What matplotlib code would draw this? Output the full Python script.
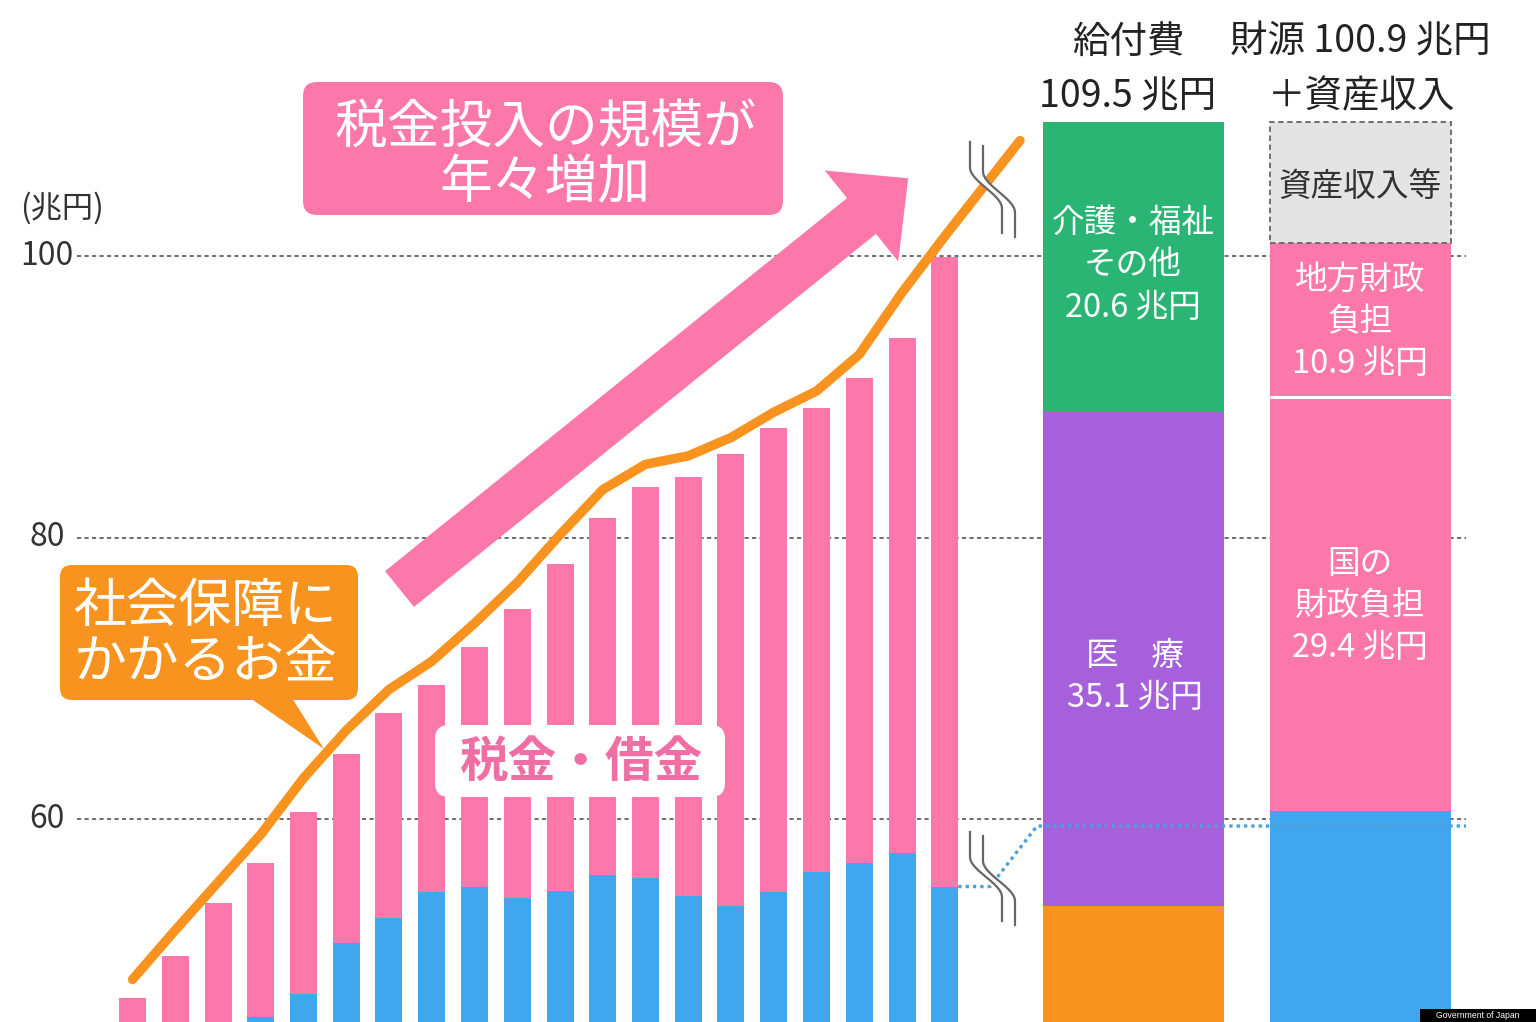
import matplotlib
matplotlib.use('Agg')
import matplotlib.pyplot as plt
import matplotlib.transforms as mtransforms
from matplotlib.patches import FancyBboxPatch, Polygon, Rectangle
import numpy as np

plt.rcParams['font.family'] = ['Noto Sans CJK JP', 'DejaVu Sans']

# ---------------- data (兆円) ----------------
# orange line: 社会保障にかかるお金 (per year, 20 years)
social_security_cost = [48.6, 52.1, 55.5, 58.9, 62.9, 66.3, 69.2, 71.2, 73.9, 76.8,
                        80.2, 83.4, 85.2, 85.8, 87.1, 88.9, 90.4, 93.0, 97.4, 101.4]
cost_tail_value = 108.2            # line continues past the break mark
# pink bar top: 保険料 + 税金・借金
tax_and_debt_top = [47.3, 50.3, 54.0, 56.9, 60.5, 64.6, 67.5, 69.5, 72.2, 74.9,
                    78.1, 81.4, 83.6, 84.3, 85.9, 87.8, 89.2, 91.3, 94.2, 99.9]
# blue bar top: 保険料
insurance_top = [42.5, 43.8, 45.0, 45.9, 47.6, 51.2, 53.0, 54.8, 55.2, 54.4,
                 54.9, 56.0, 55.8, 54.5, 53.8, 54.8, 56.2, 56.9, 57.6, 55.2]
insurance_link_level = 59.5

benefit_labels = ['年金', '医　療', '介護・福祉\nその他']
benefit_values = [53.8, 35.1, 20.6]
benefit_total = 109.5
funding_labels = ['社会保険料', '国の\n財政負担', '地方財政\n負担', '資産収入等']
funding_values = [60.6, 29.4, 10.9, 8.6]
funding_total = 100.9
yticks = [60, 80, 100]

# ---------------- colours ----------------
PINK = '#FD78AA'
BLUE = '#40A6EE'
ORANGE = '#F7931E'
GREEN = '#2AB574'
PURPLE = '#A660DC'
GRAYBOX = '#E4E4E4'
TXT = '#222222'

W, H = 1536, 1022
fig = plt.figure(figsize=(W / 100, H / 100), dpi=100)
ax = fig.add_axes([0, 0, 1, 1])
ax.axis('off')

X0, DX = 132.5, 42.75          # pixel centre of first bar, spacing


def px_x(p):
    return (p - X0) / DX


PPU = (819 - 256) / 40.0


def px_y(p):
    return 100 + (256 - p) / PPU


# pixel transform (origin top-left)
T = mtransforms.Affine2D().scale(1 / W, -1 / H).translate(0, 1) + fig.transFigure
# pixel transform with y up (for rounded boxes)
TU = mtransforms.Affine2D().scale(1 / W, 1 / H) + fig.transFigure

# gridlines
ax.hlines(yticks, px_x(77), px_x(1466), colors='#555555', linestyles=(0, (2.5, 2)),
          lw=1.2, zorder=1)
for v in yticks:
    ax.text(47, 256 + (100 - v) * PPU, str(v), transform=T, ha='center', va='center',
            fontsize=23, color='#333333')
ax.text(62, 208, '(兆円)', transform=T, ha='center', va='center', fontsize=22.5,
        color='#333333')

# yearly bars
n = len(tax_and_debt_top)
x = np.arange(n)
bw = 27 / DX
ins = np.array(insurance_top)
tot = np.array(tax_and_debt_top)
ax.bar(x, ins, width=bw, color=BLUE, zorder=2, linewidth=0)
ax.bar(x, tot - ins, bottom=ins, width=bw, color=PINK, zorder=2, linewidth=0)

# orange line
lx = list(x) + [px_x(1020)]
ly = list(social_security_cost) + [cost_tail_value]
ax.plot(lx, ly, color=ORANGE, lw=6.8, solid_capstyle='round', solid_joinstyle='round',
        zorder=5)

# blue dotted link line
bx = [n - 1 + bw / 2, px_x(990), px_x(1037), px_x(1466)]
by = [insurance_top[-1], insurance_top[-1], insurance_link_level, insurance_link_level]
ax.plot(bx, by, color='#4E9FDD', lw=2.4, linestyle=(0, (1, 1.2)), zorder=4)

# right stacked bars
cb, cf, wr = px_x(1133.5), px_x(1360.5), 181 / DX
bottom = 0
for val, col in zip(benefit_values, [ORANGE, PURPLE, GREEN]):
    ax.bar(cb, val, bottom=bottom, width=wr, color=col, zorder=2, linewidth=0)
    bottom += val
bottom = 0
for i, (val, col) in enumerate(zip(funding_values, [BLUE, PINK, PINK, GRAYBOX])):
    if i == 3:
        ax.bar(cf, val, bottom=bottom, width=wr, color=col, zorder=2,
               edgecolor='#666666', linewidth=1.3, linestyle=(0, (3, 2)))
    else:
        ax.bar(cf, val, bottom=bottom, width=wr, color=col, zorder=2, linewidth=0)
    bottom += val
ax.hlines(funding_values[0] + funding_values[1], cf - wr / 2, cf + wr / 2,
          colors='white', lw=2.2, zorder=3)

# labels in right bars
fs_in = 23.5
LS = 1.42
ax.text(1133, 265, f'{benefit_labels[2]}\n{benefit_values[2]} 兆円', transform=T,
        ha='center', va='center', fontsize=fs_in, color='white', linespacing=LS, zorder=6)
ax.text(1135, 677, f'{benefit_labels[1]}\n{benefit_values[1]} 兆円', transform=T,
        ha='center', va='center', fontsize=fs_in, color='white', linespacing=LS, zorder=6)
ax.text(1360, 187, funding_labels[3], transform=T, ha='center', va='center',
        fontsize=fs_in, color='#333333', zorder=6)
ax.text(1360, 322, f'{funding_labels[2]}\n{funding_values[2]} 兆円', transform=T,
        ha='center', va='center', fontsize=fs_in, color='white', linespacing=LS, zorder=6)
ax.text(1360, 606, f'{funding_labels[1]}\n{funding_values[1]} 兆円', transform=T,
        ha='center', va='center', fontsize=fs_in, color='white', linespacing=LS, zorder=6)

# headers
HFS = 27
ax.text(1128, 42, '給付費', transform=T, ha='center', va='center', fontsize=HFS, color=TXT)
ax.text(1128, 97, f'{benefit_total} 兆円', transform=T, ha='center', va='center',
        fontsize=HFS, color=TXT)
ax.text(1360, 42, f'財源 {funding_total} 兆円', transform=T, ha='center', va='center',
        fontsize=HFS, color=TXT)
ax.text(1362, 97, '＋資産収入', transform=T, ha='center', va='center', fontsize=HFS,
        color=TXT)


# break marks
def break_mark(x0, y0, y1):
    ys = np.linspace(y0, y1, 60)
    s = np.clip((ys - y0 - 0.28 * (y1 - y0)) / (0.45 * (y1 - y0)), 0, 1)
    xs = x0 + 32 * (3 * s ** 2 - 2 * s ** 3)
    xs2 = xs + 13
    ys2 = ys + 4
    poly = np.vstack([np.column_stack([xs, ys]), np.column_stack([xs2, ys2])[::-1]])
    ax.add_patch(Polygon(poly, closed=True, fc='white', ec='none', transform=T, zorder=7))
    ax.plot(xs, ys, color='#666666', lw=1.6, transform=T, zorder=8)
    ax.plot(xs2, ys2, color='#666666', lw=1.6, transform=T, zorder=8)


break_mark(970, 142, 233)
break_mark(970, 832, 921)

# big pink arrow
tail = np.array([399.5, 589.0])
head_base = np.array([861.5, 216.0])
d = head_base - tail
u = d / np.linalg.norm(d)
nrm = np.array([-u[1], u[0]])
sw, hw, hl = 23, 58.5, 60
pts = [tail + sw * nrm, head_base + sw * nrm, head_base + hw * nrm, head_base + hl * u,
       head_base - hw * nrm, head_base - sw * nrm, tail - sw * nrm]
ax.add_patch(Polygon(pts, closed=True, fc=PINK, ec='none', transform=T, zorder=3))

# title box
ax.add_patch(FancyBboxPatch((303, H - 215), 480, 133,
                            boxstyle='round,pad=0,rounding_size=14', fc=PINK, ec='none',
                            transform=TU, zorder=6))
ax.text(545, 155, '税金投入の規模が\n年々増加', transform=T, ha='center', va='center',
        fontsize=38, color='white', linespacing=1.02, zorder=7)

# orange callout
ax.add_patch(FancyBboxPatch((60, H - 700), 298, 135,
                            boxstyle='round,pad=0,rounding_size=12', fc=ORANGE, ec='none',
                            transform=TU, zorder=6))
ax.add_patch(Polygon([(250, 698), (292, 698), (324, 749)], closed=True, fc=ORANGE,
                     ec='none', transform=T, zorder=6))
ax.text(206, 634, '社会保障に\nかかるお金', transform=T, ha='center', va='center',
        fontsize=38, color='white', linespacing=1.02, zorder=7)

# 税金・借金 label
ax.add_patch(FancyBboxPatch((435, H - 797), 290, 72,
                            boxstyle='round,pad=0,rounding_size=14', fc='white', ec='none',
                            transform=TU, zorder=6))
ax.text(581, 762, '税金・借金', transform=T, ha='center', va='center', fontsize=35,
        color='#F06EA3', fontweight='bold', zorder=7)

# credit tag
ax.add_patch(Rectangle((1420, 1009), 116, 13, fc='black', ec='none', transform=T, zorder=9))
ax.text(1478, 1016, 'Government of Japan', transform=T, ha='center', va='center',
        fontsize=6.2, color='white', family=['Liberation Sans', 'DejaVu Sans'], zorder=10)

ax.set_xlim(px_x(0), px_x(W))
ax.set_ylim(px_y(H), px_y(0))

fig.savefig('out.png', dpi=100, facecolor='white')
